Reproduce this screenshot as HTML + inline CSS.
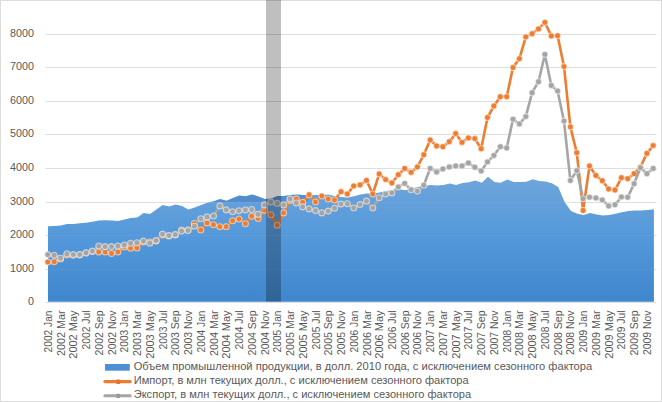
<!DOCTYPE html>
<html><head><meta charset="utf-8"><title>chart</title>
<style>
html,body{margin:0;padding:0;background:#fff;}
body{width:662px;height:402px;overflow:hidden;font-family:"Liberation Sans",sans-serif;}
svg{display:block;font-family:"Liberation Sans",sans-serif;}
</style></head><body>
<svg width="662" height="402" viewBox="0 0 662 402">
<defs><linearGradient id="ag" x1="0" y1="176" x2="0" y2="301.5" gradientUnits="userSpaceOnUse">
<stop offset="0" stop-color="#6fa5db"/><stop offset="0.5" stop-color="#5398da"/><stop offset="1" stop-color="#4086cc"/></linearGradient></defs>
<rect x="0" y="0" width="662" height="402" fill="#fff"/>
<rect x="0.5" y="0.5" width="661" height="401" fill="none" stroke="#dcdcdc" stroke-width="1"/>
<g stroke="#dedede" stroke-width="1"><line x1="45.5" x2="656.5" y1="302.5" y2="302.5"/><line x1="45.5" x2="656.5" y1="269.5" y2="269.5"/><line x1="45.5" x2="656.5" y1="235.5" y2="235.5"/><line x1="45.5" x2="656.5" y1="202.5" y2="202.5"/><line x1="45.5" x2="656.5" y1="168.5" y2="168.5"/><line x1="45.5" x2="656.5" y1="134.5" y2="134.5"/><line x1="45.5" x2="656.5" y1="101.5" y2="101.5"/><line x1="45.5" x2="656.5" y1="67.5" y2="67.5"/><line x1="45.5" x2="656.5" y1="34.5" y2="34.5"/></g>
<path d="M47.95,301.7 L47.95,226.3 L54.33,226.0 L60.71,225.6 L67.09,223.9 L73.46,223.9 L79.84,223.3 L86.22,222.8 L92.60,221.8 L98.98,220.6 L105.36,220.3 L111.73,220.6 L118.11,220.9 L124.49,219.4 L130.87,218.0 L137.25,217.5 L143.63,213.0 L150.00,213.9 L156.38,209.6 L162.76,205.1 L169.14,206.6 L175.52,204.4 L181.90,205.9 L188.28,209.6 L194.65,207.4 L201.03,205.1 L207.41,202.8 L213.79,201.3 L220.17,199.1 L226.55,200.7 L232.92,198.1 L239.30,195.6 L245.68,196.3 L252.06,194.4 L258.44,196.6 L264.82,198.9 L271.19,198.5 L277.57,195.9 L283.95,196.0 L290.33,195.1 L296.71,194.4 L303.09,195.0 L309.47,195.0 L315.84,195.0 L322.22,195.0 L328.60,194.4 L334.98,196.3 L341.36,197.0 L347.74,197.5 L354.11,196.3 L360.49,194.4 L366.87,193.5 L373.25,193.5 L379.63,192.5 L386.01,191.0 L392.38,190.2 L398.76,189.0 L405.14,190.2 L411.52,188.5 L417.90,187.0 L424.28,186.0 L430.66,185.0 L437.03,185.6 L443.41,185.0 L449.79,183.5 L456.17,185.0 L462.55,183.0 L468.93,182.3 L475.30,180.5 L481.68,182.7 L488.06,176.8 L494.44,182.1 L500.82,182.8 L507.20,179.5 L513.57,182.0 L519.95,182.0 L526.33,181.7 L532.71,179.2 L539.09,181.0 L545.47,181.4 L551.85,183.2 L558.22,187.0 L564.60,202.0 L570.98,211.0 L577.36,213.8 L583.74,215.0 L590.12,213.0 L596.49,214.6 L602.87,215.6 L609.25,215.0 L615.63,213.8 L622.01,212.3 L628.39,211.1 L634.76,210.5 L641.14,210.5 L647.52,210.0 L653.90,209.3 L653.90,301.7 Z" fill="url(#ag)"/>
<clipPath id="ac"><path d="M47.95,301.7 L47.95,226.3 L54.33,226.0 L60.71,225.6 L67.09,223.9 L73.46,223.9 L79.84,223.3 L86.22,222.8 L92.60,221.8 L98.98,220.6 L105.36,220.3 L111.73,220.6 L118.11,220.9 L124.49,219.4 L130.87,218.0 L137.25,217.5 L143.63,213.0 L150.00,213.9 L156.38,209.6 L162.76,205.1 L169.14,206.6 L175.52,204.4 L181.90,205.9 L188.28,209.6 L194.65,207.4 L201.03,205.1 L207.41,202.8 L213.79,201.3 L220.17,199.1 L226.55,200.7 L232.92,198.1 L239.30,195.6 L245.68,196.3 L252.06,194.4 L258.44,196.6 L264.82,198.9 L271.19,198.5 L277.57,195.9 L283.95,196.0 L290.33,195.1 L296.71,194.4 L303.09,195.0 L309.47,195.0 L315.84,195.0 L322.22,195.0 L328.60,194.4 L334.98,196.3 L341.36,197.0 L347.74,197.5 L354.11,196.3 L360.49,194.4 L366.87,193.5 L373.25,193.5 L379.63,192.5 L386.01,191.0 L392.38,190.2 L398.76,189.0 L405.14,190.2 L411.52,188.5 L417.90,187.0 L424.28,186.0 L430.66,185.0 L437.03,185.6 L443.41,185.0 L449.79,183.5 L456.17,185.0 L462.55,183.0 L468.93,182.3 L475.30,180.5 L481.68,182.7 L488.06,176.8 L494.44,182.1 L500.82,182.8 L507.20,179.5 L513.57,182.0 L519.95,182.0 L526.33,181.7 L532.71,179.2 L539.09,181.0 L545.47,181.4 L551.85,183.2 L558.22,187.0 L564.60,202.0 L570.98,211.0 L577.36,213.8 L583.74,215.0 L590.12,213.0 L596.49,214.6 L602.87,215.6 L609.25,215.0 L615.63,213.8 L622.01,212.3 L628.39,211.1 L634.76,210.5 L641.14,210.5 L647.52,210.0 L653.90,209.3 L653.90,301.7 Z"/></clipPath>
<rect x="203" y="188" width="105" height="14" fill="#1f5fb0" fill-opacity="0.28" clip-path="url(#ac)"/>
<g stroke="#ffffff" stroke-opacity="0.05" stroke-width="1"><line x1="47.8" x2="653.2" y1="269.5" y2="269.5"/><line x1="47.8" x2="653.2" y1="235.5" y2="235.5"/><line x1="47.8" x2="653.2" y1="202.5" y2="202.5"/></g>
<polyline points="47.8,262.1 54.2,261.7 60.5,259.0 66.9,255.0 73.3,255.2 79.7,255.0 86.0,253.0 92.4,251.5 98.8,252.0 105.2,252.0 111.5,253.5 117.9,252.0 124.3,247.0 130.6,248.3 137.0,248.0 143.4,242.0 149.8,242.0 156.1,241.0 162.5,235.0 168.9,236.0 175.3,235.0 181.6,230.0 188.0,230.0 194.4,223.5 200.8,230.0 207.1,222.9 213.5,224.7 219.9,226.7 226.2,226.7 232.6,220.8 239.0,219.0 245.4,223.8 251.7,216.3 258.1,218.5 264.5,210.2 270.9,214.7 277.2,225.3 283.6,212.9 290.0,200.4 296.3,198.9 302.7,202.4 309.1,194.8 315.5,202.0 321.8,196.0 328.2,199.0 334.6,200.0 341.0,191.7 347.3,194.0 353.7,186.0 360.1,184.9 366.5,180.4 372.8,194.0 379.2,173.9 385.6,179.6 391.9,183.0 398.3,174.7 404.7,168.5 411.1,172.4 417.4,166.9 423.8,154.8 430.2,140.0 436.6,146.0 442.9,146.8 449.3,141.7 455.7,133.6 462.0,142.4 468.4,137.9 474.8,138.6 481.2,148.8 487.5,117.5 493.9,106.0 500.3,96.7 506.7,96.8 513.0,67.6 519.4,58.7 525.8,36.9 532.1,33.7 538.5,28.9 544.9,22.4 551.3,36.0 557.6,35.7 564.0,66.6 570.4,126.9 576.8,152.8 583.1,210.5 589.5,166.0 595.9,175.5 602.3,180.8 608.6,189.0 615.0,190.0 621.4,177.8 627.7,178.7 634.1,173.8 640.5,167.0 646.9,153.4 653.2,145.6" fill="none" stroke="#ed7d31" stroke-width="2.6" stroke-linejoin="round" stroke-linecap="round"/>
<g fill="#ed7d31" stroke="#fdeee3" stroke-opacity="0.6" stroke-width="1.1"><circle cx="47.8" cy="262.1" r="3.0"/><circle cx="54.2" cy="261.7" r="3.0"/><circle cx="60.5" cy="259.0" r="3.0"/><circle cx="66.9" cy="255.0" r="3.0"/><circle cx="73.3" cy="255.2" r="3.0"/><circle cx="79.7" cy="255.0" r="3.0"/><circle cx="86.0" cy="253.0" r="3.0"/><circle cx="92.4" cy="251.5" r="3.0"/><circle cx="98.8" cy="252.0" r="3.0"/><circle cx="105.2" cy="252.0" r="3.0"/><circle cx="111.5" cy="253.5" r="3.0"/><circle cx="117.9" cy="252.0" r="3.0"/><circle cx="124.3" cy="247.0" r="3.0"/><circle cx="130.6" cy="248.3" r="3.0"/><circle cx="137.0" cy="248.0" r="3.0"/><circle cx="143.4" cy="242.0" r="3.0"/><circle cx="149.8" cy="242.0" r="3.0"/><circle cx="156.1" cy="241.0" r="3.0"/><circle cx="162.5" cy="235.0" r="3.0"/><circle cx="168.9" cy="236.0" r="3.0"/><circle cx="175.3" cy="235.0" r="3.0"/><circle cx="181.6" cy="230.0" r="3.0"/><circle cx="188.0" cy="230.0" r="3.0"/><circle cx="194.4" cy="223.5" r="3.0"/><circle cx="200.8" cy="230.0" r="3.0"/><circle cx="207.1" cy="222.9" r="3.0"/><circle cx="213.5" cy="224.7" r="3.0"/><circle cx="219.9" cy="226.7" r="3.0"/><circle cx="226.2" cy="226.7" r="3.0"/><circle cx="232.6" cy="220.8" r="3.0"/><circle cx="239.0" cy="219.0" r="3.0"/><circle cx="245.4" cy="223.8" r="3.0"/><circle cx="251.7" cy="216.3" r="3.0"/><circle cx="258.1" cy="218.5" r="3.0"/><circle cx="264.5" cy="210.2" r="3.0"/><circle cx="270.9" cy="214.7" r="3.0"/><circle cx="277.2" cy="225.3" r="3.0"/><circle cx="283.6" cy="212.9" r="3.0"/><circle cx="290.0" cy="200.4" r="3.0"/><circle cx="296.3" cy="198.9" r="3.0"/><circle cx="302.7" cy="202.4" r="3.0"/><circle cx="309.1" cy="194.8" r="3.0"/><circle cx="315.5" cy="202.0" r="3.0"/><circle cx="321.8" cy="196.0" r="3.0"/><circle cx="328.2" cy="199.0" r="3.0"/><circle cx="334.6" cy="200.0" r="3.0"/><circle cx="341.0" cy="191.7" r="3.0"/><circle cx="347.3" cy="194.0" r="3.0"/><circle cx="353.7" cy="186.0" r="3.0"/><circle cx="360.1" cy="184.9" r="3.0"/><circle cx="366.5" cy="180.4" r="3.0"/><circle cx="372.8" cy="194.0" r="3.0"/><circle cx="379.2" cy="173.9" r="3.0"/><circle cx="385.6" cy="179.6" r="3.0"/><circle cx="391.9" cy="183.0" r="3.0"/><circle cx="398.3" cy="174.7" r="3.0"/><circle cx="404.7" cy="168.5" r="3.0"/><circle cx="411.1" cy="172.4" r="3.0"/><circle cx="417.4" cy="166.9" r="3.0"/><circle cx="423.8" cy="154.8" r="3.0"/><circle cx="430.2" cy="140.0" r="3.0"/><circle cx="436.6" cy="146.0" r="3.0"/><circle cx="442.9" cy="146.8" r="3.0"/><circle cx="449.3" cy="141.7" r="3.0"/><circle cx="455.7" cy="133.6" r="3.0"/><circle cx="462.0" cy="142.4" r="3.0"/><circle cx="468.4" cy="137.9" r="3.0"/><circle cx="474.8" cy="138.6" r="3.0"/><circle cx="481.2" cy="148.8" r="3.0"/><circle cx="487.5" cy="117.5" r="3.0"/><circle cx="493.9" cy="106.0" r="3.0"/><circle cx="500.3" cy="96.7" r="3.0"/><circle cx="506.7" cy="96.8" r="3.0"/><circle cx="513.0" cy="67.6" r="3.0"/><circle cx="519.4" cy="58.7" r="3.0"/><circle cx="525.8" cy="36.9" r="3.0"/><circle cx="532.1" cy="33.7" r="3.0"/><circle cx="538.5" cy="28.9" r="3.0"/><circle cx="544.9" cy="22.4" r="3.0"/><circle cx="551.3" cy="36.0" r="3.0"/><circle cx="557.6" cy="35.7" r="3.0"/><circle cx="564.0" cy="66.6" r="3.0"/><circle cx="570.4" cy="126.9" r="3.0"/><circle cx="576.8" cy="152.8" r="3.0"/><circle cx="583.1" cy="210.5" r="3.0"/><circle cx="589.5" cy="166.0" r="3.0"/><circle cx="595.9" cy="175.5" r="3.0"/><circle cx="602.3" cy="180.8" r="3.0"/><circle cx="608.6" cy="189.0" r="3.0"/><circle cx="615.0" cy="190.0" r="3.0"/><circle cx="621.4" cy="177.8" r="3.0"/><circle cx="627.7" cy="178.7" r="3.0"/><circle cx="634.1" cy="173.8" r="3.0"/><circle cx="640.5" cy="167.0" r="3.0"/><circle cx="646.9" cy="153.4" r="3.0"/><circle cx="653.2" cy="145.6" r="3.0"/></g>
<polyline points="47.8,254.6 54.2,255.3 60.5,258.0 66.9,253.8 73.3,254.6 79.7,254.6 86.0,252.7 92.4,251.1 98.8,246.0 105.2,246.6 111.5,246.6 117.9,246.0 124.3,245.0 130.6,243.3 137.0,242.7 143.4,241.1 149.8,243.2 156.1,240.6 162.5,234.1 168.9,235.6 175.3,234.6 181.6,231.1 188.0,230.5 194.4,226.3 200.8,218.7 207.1,216.9 213.5,216.0 219.9,205.9 226.2,209.9 232.6,211.7 239.0,210.7 245.4,209.9 251.7,209.5 258.1,214.4 264.5,204.9 270.9,201.9 277.2,203.4 283.6,204.9 290.0,198.9 296.3,203.0 302.7,206.9 309.1,208.9 315.5,210.6 321.8,212.9 328.2,211.1 334.6,208.3 341.0,204.1 347.3,203.8 353.7,208.0 360.1,204.6 366.5,201.1 372.8,208.0 379.2,197.8 385.6,194.0 391.9,192.9 398.3,186.9 404.7,183.4 411.1,189.8 417.4,191.1 423.8,185.3 430.2,168.4 436.6,172.0 442.9,169.0 449.3,166.9 455.7,166.0 462.0,166.0 468.4,163.0 474.8,167.2 481.2,171.0 487.5,161.9 493.9,155.5 500.3,146.8 506.7,148.0 513.0,119.3 519.4,123.9 525.8,116.6 532.1,92.7 538.5,81.7 544.9,54.5 551.3,85.5 557.6,91.1 564.0,121.1 570.4,180.6 576.8,170.6 583.1,198.7 589.5,197.2 595.9,197.9 602.3,199.9 608.6,206.0 615.0,204.7 621.4,196.9 627.7,197.2 634.1,183.8 640.5,167.8 646.9,173.8 653.2,168.5" fill="none" stroke="#a5a5a5" stroke-width="2.6" stroke-linejoin="round" stroke-linecap="round"/>
<g fill="#a5a5a5" stroke="#f2f2f2" stroke-opacity="0.6" stroke-width="1.1"><circle cx="47.8" cy="254.6" r="3.0"/><circle cx="54.2" cy="255.3" r="3.0"/><circle cx="60.5" cy="258.0" r="3.0"/><circle cx="66.9" cy="253.8" r="3.0"/><circle cx="73.3" cy="254.6" r="3.0"/><circle cx="79.7" cy="254.6" r="3.0"/><circle cx="86.0" cy="252.7" r="3.0"/><circle cx="92.4" cy="251.1" r="3.0"/><circle cx="98.8" cy="246.0" r="3.0"/><circle cx="105.2" cy="246.6" r="3.0"/><circle cx="111.5" cy="246.6" r="3.0"/><circle cx="117.9" cy="246.0" r="3.0"/><circle cx="124.3" cy="245.0" r="3.0"/><circle cx="130.6" cy="243.3" r="3.0"/><circle cx="137.0" cy="242.7" r="3.0"/><circle cx="143.4" cy="241.1" r="3.0"/><circle cx="149.8" cy="243.2" r="3.0"/><circle cx="156.1" cy="240.6" r="3.0"/><circle cx="162.5" cy="234.1" r="3.0"/><circle cx="168.9" cy="235.6" r="3.0"/><circle cx="175.3" cy="234.6" r="3.0"/><circle cx="181.6" cy="231.1" r="3.0"/><circle cx="188.0" cy="230.5" r="3.0"/><circle cx="194.4" cy="226.3" r="3.0"/><circle cx="200.8" cy="218.7" r="3.0"/><circle cx="207.1" cy="216.9" r="3.0"/><circle cx="213.5" cy="216.0" r="3.0"/><circle cx="219.9" cy="205.9" r="3.0"/><circle cx="226.2" cy="209.9" r="3.0"/><circle cx="232.6" cy="211.7" r="3.0"/><circle cx="239.0" cy="210.7" r="3.0"/><circle cx="245.4" cy="209.9" r="3.0"/><circle cx="251.7" cy="209.5" r="3.0"/><circle cx="258.1" cy="214.4" r="3.0"/><circle cx="264.5" cy="204.9" r="3.0"/><circle cx="270.9" cy="201.9" r="3.0"/><circle cx="277.2" cy="203.4" r="3.0"/><circle cx="283.6" cy="204.9" r="3.0"/><circle cx="290.0" cy="198.9" r="3.0"/><circle cx="296.3" cy="203.0" r="3.0"/><circle cx="302.7" cy="206.9" r="3.0"/><circle cx="309.1" cy="208.9" r="3.0"/><circle cx="315.5" cy="210.6" r="3.0"/><circle cx="321.8" cy="212.9" r="3.0"/><circle cx="328.2" cy="211.1" r="3.0"/><circle cx="334.6" cy="208.3" r="3.0"/><circle cx="341.0" cy="204.1" r="3.0"/><circle cx="347.3" cy="203.8" r="3.0"/><circle cx="353.7" cy="208.0" r="3.0"/><circle cx="360.1" cy="204.6" r="3.0"/><circle cx="366.5" cy="201.1" r="3.0"/><circle cx="372.8" cy="208.0" r="3.0"/><circle cx="379.2" cy="197.8" r="3.0"/><circle cx="385.6" cy="194.0" r="3.0"/><circle cx="391.9" cy="192.9" r="3.0"/><circle cx="398.3" cy="186.9" r="3.0"/><circle cx="404.7" cy="183.4" r="3.0"/><circle cx="411.1" cy="189.8" r="3.0"/><circle cx="417.4" cy="191.1" r="3.0"/><circle cx="423.8" cy="185.3" r="3.0"/><circle cx="430.2" cy="168.4" r="3.0"/><circle cx="436.6" cy="172.0" r="3.0"/><circle cx="442.9" cy="169.0" r="3.0"/><circle cx="449.3" cy="166.9" r="3.0"/><circle cx="455.7" cy="166.0" r="3.0"/><circle cx="462.0" cy="166.0" r="3.0"/><circle cx="468.4" cy="163.0" r="3.0"/><circle cx="474.8" cy="167.2" r="3.0"/><circle cx="481.2" cy="171.0" r="3.0"/><circle cx="487.5" cy="161.9" r="3.0"/><circle cx="493.9" cy="155.5" r="3.0"/><circle cx="500.3" cy="146.8" r="3.0"/><circle cx="506.7" cy="148.0" r="3.0"/><circle cx="513.0" cy="119.3" r="3.0"/><circle cx="519.4" cy="123.9" r="3.0"/><circle cx="525.8" cy="116.6" r="3.0"/><circle cx="532.1" cy="92.7" r="3.0"/><circle cx="538.5" cy="81.7" r="3.0"/><circle cx="544.9" cy="54.5" r="3.0"/><circle cx="551.3" cy="85.5" r="3.0"/><circle cx="557.6" cy="91.1" r="3.0"/><circle cx="564.0" cy="121.1" r="3.0"/><circle cx="570.4" cy="180.6" r="3.0"/><circle cx="576.8" cy="170.6" r="3.0"/><circle cx="583.1" cy="198.7" r="3.0"/><circle cx="589.5" cy="197.2" r="3.0"/><circle cx="595.9" cy="197.9" r="3.0"/><circle cx="602.3" cy="199.9" r="3.0"/><circle cx="608.6" cy="206.0" r="3.0"/><circle cx="615.0" cy="204.7" r="3.0"/><circle cx="621.4" cy="196.9" r="3.0"/><circle cx="627.7" cy="197.2" r="3.0"/><circle cx="634.1" cy="183.8" r="3.0"/><circle cx="640.5" cy="167.8" r="3.0"/><circle cx="646.9" cy="173.8" r="3.0"/><circle cx="653.2" cy="168.5" r="3.0"/></g>
<rect x="266" y="0" width="15" height="301.6" fill="#000" fill-opacity="0.25"/>
<g font-size="10.75" fill="#595959"><text x="34" y="305.25" text-anchor="end">0</text><text x="34" y="272.25" text-anchor="end">1000</text><text x="34" y="238.25" text-anchor="end">2000</text><text x="34" y="205.25" text-anchor="end">3000</text><text x="34" y="171.25" text-anchor="end">4000</text><text x="34" y="137.25" text-anchor="end">5000</text><text x="34" y="104.25" text-anchor="end">6000</text><text x="34" y="70.25" text-anchor="end">7000</text><text x="34" y="37.25" text-anchor="end">8000</text></g>
<g font-size="10.5" fill="#595959"><text transform="translate(51.8,310.5) rotate(-90)" text-anchor="end" textLength="41.9" lengthAdjust="spacingAndGlyphs">2002 Jan</text><text transform="translate(64.5,310.5) rotate(-90)" text-anchor="end" textLength="45.6" lengthAdjust="spacingAndGlyphs">2002 Mar</text><text transform="translate(77.3,310.5) rotate(-90)" text-anchor="end" textLength="48.2" lengthAdjust="spacingAndGlyphs">2002 May</text><text transform="translate(90.0,310.5) rotate(-90)" text-anchor="end" textLength="38.9" lengthAdjust="spacingAndGlyphs">2002 Jul</text><text transform="translate(102.8,310.5) rotate(-90)" text-anchor="end" textLength="45.0" lengthAdjust="spacingAndGlyphs">2002 Sep</text><text transform="translate(115.5,310.5) rotate(-90)" text-anchor="end" textLength="44.6" lengthAdjust="spacingAndGlyphs">2002 Nov</text><text transform="translate(128.3,310.5) rotate(-90)" text-anchor="end" textLength="41.9" lengthAdjust="spacingAndGlyphs">2003 Jan</text><text transform="translate(141.0,310.5) rotate(-90)" text-anchor="end" textLength="45.6" lengthAdjust="spacingAndGlyphs">2003 Mar</text><text transform="translate(153.8,310.5) rotate(-90)" text-anchor="end" textLength="48.2" lengthAdjust="spacingAndGlyphs">2003 May</text><text transform="translate(166.5,310.5) rotate(-90)" text-anchor="end" textLength="38.9" lengthAdjust="spacingAndGlyphs">2003 Jul</text><text transform="translate(179.3,310.5) rotate(-90)" text-anchor="end" textLength="45.0" lengthAdjust="spacingAndGlyphs">2003 Sep</text><text transform="translate(192.0,310.5) rotate(-90)" text-anchor="end" textLength="44.6" lengthAdjust="spacingAndGlyphs">2003 Nov</text><text transform="translate(204.8,310.5) rotate(-90)" text-anchor="end" textLength="41.9" lengthAdjust="spacingAndGlyphs">2004 Jan</text><text transform="translate(217.5,310.5) rotate(-90)" text-anchor="end" textLength="45.6" lengthAdjust="spacingAndGlyphs">2004 Mar</text><text transform="translate(230.2,310.5) rotate(-90)" text-anchor="end" textLength="48.2" lengthAdjust="spacingAndGlyphs">2004 May</text><text transform="translate(243.0,310.5) rotate(-90)" text-anchor="end" textLength="38.9" lengthAdjust="spacingAndGlyphs">2004 Jul</text><text transform="translate(255.7,310.5) rotate(-90)" text-anchor="end" textLength="45.0" lengthAdjust="spacingAndGlyphs">2004 Sep</text><text transform="translate(268.5,310.5) rotate(-90)" text-anchor="end" textLength="44.6" lengthAdjust="spacingAndGlyphs">2004 Nov</text><text transform="translate(281.2,310.5) rotate(-90)" text-anchor="end" textLength="41.9" lengthAdjust="spacingAndGlyphs">2005 Jan</text><text transform="translate(294.0,310.5) rotate(-90)" text-anchor="end" textLength="45.6" lengthAdjust="spacingAndGlyphs">2005 Mar</text><text transform="translate(306.7,310.5) rotate(-90)" text-anchor="end" textLength="48.2" lengthAdjust="spacingAndGlyphs">2005 May</text><text transform="translate(319.5,310.5) rotate(-90)" text-anchor="end" textLength="38.9" lengthAdjust="spacingAndGlyphs">2005 Jul</text><text transform="translate(332.2,310.5) rotate(-90)" text-anchor="end" textLength="45.0" lengthAdjust="spacingAndGlyphs">2005 Sep</text><text transform="translate(345.0,310.5) rotate(-90)" text-anchor="end" textLength="44.6" lengthAdjust="spacingAndGlyphs">2005 Nov</text><text transform="translate(357.7,310.5) rotate(-90)" text-anchor="end" textLength="41.9" lengthAdjust="spacingAndGlyphs">2006 Jan</text><text transform="translate(370.5,310.5) rotate(-90)" text-anchor="end" textLength="45.6" lengthAdjust="spacingAndGlyphs">2006 Mar</text><text transform="translate(383.2,310.5) rotate(-90)" text-anchor="end" textLength="48.2" lengthAdjust="spacingAndGlyphs">2006 May</text><text transform="translate(395.9,310.5) rotate(-90)" text-anchor="end" textLength="38.9" lengthAdjust="spacingAndGlyphs">2006 Jul</text><text transform="translate(408.7,310.5) rotate(-90)" text-anchor="end" textLength="45.0" lengthAdjust="spacingAndGlyphs">2006 Sep</text><text transform="translate(421.4,310.5) rotate(-90)" text-anchor="end" textLength="44.6" lengthAdjust="spacingAndGlyphs">2006 Nov</text><text transform="translate(434.2,310.5) rotate(-90)" text-anchor="end" textLength="41.9" lengthAdjust="spacingAndGlyphs">2007 Jan</text><text transform="translate(446.9,310.5) rotate(-90)" text-anchor="end" textLength="45.6" lengthAdjust="spacingAndGlyphs">2007 Mar</text><text transform="translate(459.7,310.5) rotate(-90)" text-anchor="end" textLength="48.2" lengthAdjust="spacingAndGlyphs">2007 May</text><text transform="translate(472.4,310.5) rotate(-90)" text-anchor="end" textLength="38.9" lengthAdjust="spacingAndGlyphs">2007 Jul</text><text transform="translate(485.2,310.5) rotate(-90)" text-anchor="end" textLength="45.0" lengthAdjust="spacingAndGlyphs">2007 Sep</text><text transform="translate(497.9,310.5) rotate(-90)" text-anchor="end" textLength="44.6" lengthAdjust="spacingAndGlyphs">2007 Nov</text><text transform="translate(510.7,310.5) rotate(-90)" text-anchor="end" textLength="41.9" lengthAdjust="spacingAndGlyphs">2008 Jan</text><text transform="translate(523.4,310.5) rotate(-90)" text-anchor="end" textLength="45.6" lengthAdjust="spacingAndGlyphs">2008 Mar</text><text transform="translate(536.1,310.5) rotate(-90)" text-anchor="end" textLength="48.2" lengthAdjust="spacingAndGlyphs">2008 May</text><text transform="translate(548.9,310.5) rotate(-90)" text-anchor="end" textLength="38.9" lengthAdjust="spacingAndGlyphs">2008 Jul</text><text transform="translate(561.6,310.5) rotate(-90)" text-anchor="end" textLength="45.0" lengthAdjust="spacingAndGlyphs">2008 Sep</text><text transform="translate(574.4,310.5) rotate(-90)" text-anchor="end" textLength="44.6" lengthAdjust="spacingAndGlyphs">2008 Nov</text><text transform="translate(587.1,310.5) rotate(-90)" text-anchor="end" textLength="41.9" lengthAdjust="spacingAndGlyphs">2009 Jan</text><text transform="translate(599.9,310.5) rotate(-90)" text-anchor="end" textLength="45.6" lengthAdjust="spacingAndGlyphs">2009 Mar</text><text transform="translate(612.6,310.5) rotate(-90)" text-anchor="end" textLength="48.2" lengthAdjust="spacingAndGlyphs">2009 May</text><text transform="translate(625.4,310.5) rotate(-90)" text-anchor="end" textLength="38.9" lengthAdjust="spacingAndGlyphs">2009 Jul</text><text transform="translate(638.1,310.5) rotate(-90)" text-anchor="end" textLength="45.0" lengthAdjust="spacingAndGlyphs">2009 Sep</text><text transform="translate(650.9,310.5) rotate(-90)" text-anchor="end" textLength="44.6" lengthAdjust="spacingAndGlyphs">2009 Nov</text></g>
<g>
<rect x="105" y="364" width="24.8" height="6.7" fill="#4d90d4"/>
<line x1="104.9" x2="130.2" y1="381.6" y2="381.6" stroke="#ed7d31" stroke-width="3.1" stroke-linecap="round"/>
<rect x="116.2" y="379.5" width="4" height="4.4" rx="1" fill="#e8702a"/>
<line x1="104.9" x2="130.2" y1="395.8" y2="395.8" stroke="#a5a5a5" stroke-width="3.1" stroke-linecap="round"/>
<rect x="116.2" y="393.7" width="4" height="4.4" rx="1" fill="#9b9b9b"/>
</g>
<g font-size="10.2" fill="#595959">
<text x="133.7" y="369.6" textLength="458.5" lengthAdjust="spacingAndGlyphs">Объем промышленной продукции, в долл. 2010 года, с исключением сезонного фактора</text>
<text x="133.7" y="383.8" textLength="335" lengthAdjust="spacingAndGlyphs">Импорт, в млн текущих долл., с исключением сезонного фактора</text>
<text x="133.7" y="398.0" textLength="337.5" lengthAdjust="spacingAndGlyphs">Экспорт, в млн текущих долл., с исключением сезонного фактора</text>
</g>
</svg>
</body></html>
